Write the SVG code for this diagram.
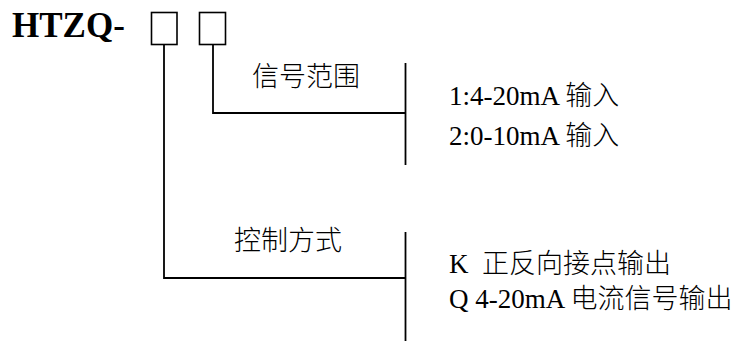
<svg xmlns="http://www.w3.org/2000/svg" width="744" height="343" viewBox="0 0 744 343">
<style>
.t{font-family:"Liberation Serif","Noto Sans CJK SC",serif;font-size:27px;fill:#000}
.c{font-family:"Noto Sans CJK SC","Liberation Serif",sans-serif;font-size:27px;font-weight:300;fill:#000}
.t tspan.k{font-family:"Noto Sans CJK SC",sans-serif;font-weight:300}
.ln{fill:none;stroke:#000;stroke-width:1.8}
.bx{fill:#fff;stroke:#000;stroke-width:1.6}
</style>
<rect width="744" height="343" fill="#fff"/>
<g id="title">
<text x="12" y="37" style="font-family:'Liberation Serif',serif;font-size:35px;font-weight:bold">HTZQ-</text>
</g>
<g id="box1"><rect class="bx" x="151.5" y="12.5" width="25.5" height="32"/></g>
<g id="box2"><rect class="bx" x="199.5" y="12.5" width="26" height="32"/></g>
<g id="connectors">
<polyline class="ln" points="213,44.5 213,113 405.5,113"/>
<polyline class="ln" points="164,44.5 164,278 405.5,278"/>
<line class="ln" x1="405.5" y1="63" x2="405.5" y2="165"/>
<line class="ln" x1="405.5" y1="232" x2="405.5" y2="341"/>
</g>
<g id="range">
<text class="c" x="252" y="86">信号范围</text>
<text class="t" x="449" y="105">1:4-20mA <tspan class="k">输入</tspan></text>
<text class="t" x="449" y="145">2:0-10mA <tspan class="k">输入</tspan></text>
</g>
<g id="control">
<text class="c" x="234" y="250">控制方式</text>
<text class="t" x="449" y="273" xml:space="preserve">K  <tspan class="k">正反向接点输出</tspan></text>
<text class="t" x="449" y="308">Q 4-20mA <tspan class="k">电流信号输出</tspan></text>
</g>
</svg>
